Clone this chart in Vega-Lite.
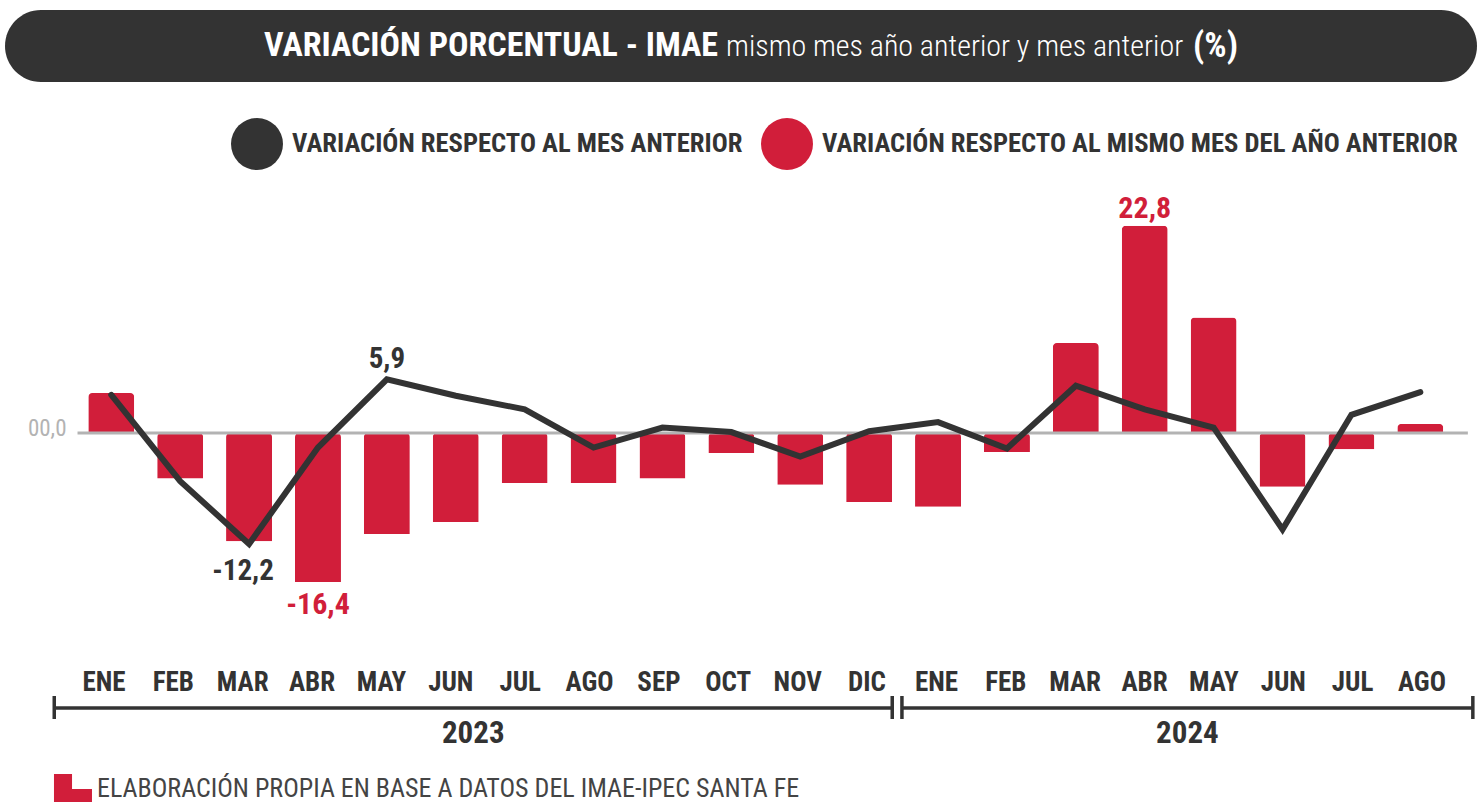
{
  "$schema": "https://vega.github.io/schema/vega-lite/v6.json",
  "padding": {"left": 5, "top": 10, "right": 0, "bottom": 0},
  "spacing": 0,
  "background": "white",
  "datasets": {
    "m": [
      {"i": 0, "mes": "ENE", "anio": "2023", "yoy": 4.4, "mom": 4.2},
      {"i": 1, "mes": "FEB", "anio": "2023", "yoy": -5.0, "mom": -5.3},
      {"i": 2, "mes": "MAR", "anio": "2023", "yoy": -11.9, "mom": -12.2},
      {"i": 3, "mes": "ABR", "anio": "2023", "yoy": -16.4, "mom": -1.6},
      {"i": 4, "mes": "MAY", "anio": "2023", "yoy": -11.1, "mom": 5.9},
      {"i": 5, "mes": "JUN", "anio": "2023", "yoy": -9.8, "mom": 4.1},
      {"i": 6, "mes": "JUL", "anio": "2023", "yoy": -5.5, "mom": 2.6},
      {"i": 7, "mes": "AGO", "anio": "2023", "yoy": -5.5, "mom": -1.6},
      {"i": 8, "mes": "SEP", "anio": "2023", "yoy": -5.0, "mom": 0.6},
      {"i": 9, "mes": "OCT", "anio": "2023", "yoy": -2.2, "mom": 0.1},
      {"i": 10, "mes": "NOV", "anio": "2023", "yoy": -5.7, "mom": -2.6},
      {"i": 11, "mes": "DIC", "anio": "2023", "yoy": -7.6, "mom": 0.2},
      {"i": 12, "mes": "ENE", "anio": "2024", "yoy": -8.1, "mom": 1.2},
      {"i": 13, "mes": "FEB", "anio": "2024", "yoy": -2.1, "mom": -1.7},
      {"i": 14, "mes": "MAR", "anio": "2024", "yoy": 9.9, "mom": 5.2},
      {"i": 15, "mes": "ABR", "anio": "2024", "yoy": 22.8, "mom": 2.6},
      {"i": 16, "mes": "MAY", "anio": "2024", "yoy": 12.7, "mom": 0.6},
      {"i": 17, "mes": "JUN", "anio": "2024", "yoy": -5.9, "mom": -10.6},
      {"i": 18, "mes": "JUL", "anio": "2024", "yoy": -1.8, "mom": 2.0},
      {"i": 19, "mes": "AGO", "anio": "2024", "yoy": 1.0, "mom": 4.5}
    ],
    "years": [
      {"anio": "2023", "start": -0.76, "end": 11.32},
      {"anio": "2024", "start": 11.46, "end": 19.69}
    ]
  },
  "resolve": {"scale": {"x": "independent", "y": "independent", "color": "independent"}},
  "vconcat": [
    {
      "width": 1472,
      "height": 72,
      "view": {"fill": "#333333", "cornerRadius": 36, "stroke": null},
      "data": {"values": [{}]},
      "layer": [
        {
          "mark": {"type": "text", "align": "right", "baseline": "middle", "fontSize": 34, "fontWeight": "bold", "color": "#ffffff"},
          "encoding": {
            "x": {"datum": 713, "type": "quantitative", "scale": {"domain": [0, 1472], "nice": false, "zero": false}, "axis": null},
            "y": {"datum": 36, "type": "quantitative", "scale": {"domain": [0, 72], "reverse": true, "nice": false, "zero": false}, "axis": null},
            "text": {"value": "VARIACIÓN PORCENTUAL - IMAE"}
          }
        },
        {
          "mark": {"type": "text", "align": "left", "baseline": "middle", "fontSize": 30, "fontWeight": 300, "color": "#ffffff"},
          "encoding": {
            "x": {"datum": 721, "type": "quantitative"},
            "y": {"datum": 37, "type": "quantitative"},
            "text": {"value": "mismo mes año anterior y mes anterior"}
          }
        },
        {
          "mark": {"type": "text", "align": "left", "baseline": "middle", "fontSize": 35, "fontWeight": "bold", "color": "#ffffff"},
          "encoding": {
            "x": {"datum": 1188, "type": "quantitative"},
            "y": {"datum": 36, "type": "quantitative"},
            "text": {"value": "(%)"}
          }
        }
      ]
    },
    {
      "width": 1472,
      "height": 573,
      "data": {"name": "m"},
      "layer": [
        {
          "mark": {"type": "bar", "width": 46, "cornerRadiusEnd": 4},
          "encoding": {
            "x": {"field": "i", "type": "quantitative", "scale": {"domain": [-1.47, 19.75], "nice": false, "zero": false}, "axis": null},
            "y": {"field": "yoy", "type": "quantitative", "scale": {"domain": [-24.42, 38.61], "nice": false, "zero": false}, "axis": null},
            "color": {
              "datum": "VARIACIÓN RESPECTO AL MISMO MES DEL AÑO ANTERIOR",
              "type": "nominal",
              "scale": {"domain": ["VARIACIÓN RESPECTO AL MES ANTERIOR", "VARIACIÓN RESPECTO AL MISMO MES DEL AÑO ANTERIOR"], "range": ["#333333", "#d11e3a"]},
              "legend": {
                "title": null,
                "orient": "none",
                "legendX": 226,
                "legendY": 36,
                "direction": "horizontal",
                "symbolType": "circle",
                "symbolSize": 2704,
                "symbolStrokeWidth": 0,
                "symbolOpacity": 1,
                "labelFontSize": 26.6,
                "labelFontWeight": "bold",
                "labelColor": "#333333",
                "labelLimit": 1000,
                "labelOffset": 9,
                "columnPadding": 18,
                "padding": 0
              }
            }
          }
        },
        {
          "data": {"values": [{}]},
          "mark": {"type": "rule", "color": "#b3b3b3", "strokeWidth": 3},
          "encoding": {
            "x": {"datum": -0.49, "type": "quantitative"},
            "x2": {"datum": 19.69},
            "y": {"datum": 0, "type": "quantitative"}
          }
        },
        {
          "data": {"values": [{}]},
          "mark": {"type": "text", "align": "right", "baseline": "middle", "dy": -4, "fontSize": 23, "color": "#b3b3b3"},
          "encoding": {
            "x": {"datum": -0.65, "type": "quantitative"},
            "y": {"datum": 0, "type": "quantitative"},
            "text": {"value": "00,0"}
          }
        },
        {
          "mark": {"type": "line", "strokeWidth": 6, "strokeCap": "round", "strokeJoin": "miter"},
          "encoding": {
            "x": {"field": "i", "type": "quantitative"},
            "y": {"field": "mom", "type": "quantitative"},
            "color": {"datum": "VARIACIÓN RESPECTO AL MES ANTERIOR", "type": "nominal"}
          }
        },
        {
          "transform": [{"filter": "datum.i == 4"}],
          "mark": {"type": "text", "baseline": "bottom", "dy": -5, "fontSize": 29, "fontWeight": "bold", "color": "#333333"},
          "encoding": {
            "x": {"field": "i", "type": "quantitative"},
            "y": {"field": "mom", "type": "quantitative"},
            "text": {"field": "mom", "type": "quantitative", "format": ".1f"}
          }
        },
        {
          "transform": [{"filter": "datum.i == 2"}],
          "mark": {"type": "text", "baseline": "top", "dy": 13, "dx": -6, "fontSize": 29, "fontWeight": "bold", "color": "#333333"},
          "encoding": {
            "x": {"field": "i", "type": "quantitative"},
            "y": {"field": "mom", "type": "quantitative"},
            "text": {"field": "mom", "type": "quantitative", "format": ".1f"}
          }
        },
        {
          "transform": [{"filter": "datum.i == 3"}],
          "mark": {"type": "text", "baseline": "top", "dy": 8, "fontSize": 30, "fontWeight": "bold", "color": "#d11e3a"},
          "encoding": {
            "x": {"field": "i", "type": "quantitative"},
            "y": {"field": "yoy", "type": "quantitative"},
            "text": {"field": "yoy", "type": "quantitative", "format": ".1f"}
          }
        },
        {
          "transform": [{"filter": "datum.i == 15"}],
          "mark": {"type": "text", "baseline": "bottom", "dy": -2, "fontSize": 30, "fontWeight": "bold", "color": "#d11e3a"},
          "encoding": {
            "x": {"field": "i", "type": "quantitative"},
            "y": {"field": "yoy", "type": "quantitative"},
            "text": {"field": "yoy", "type": "quantitative", "format": ".1f"}
          }
        }
      ]
    },
    {
      "width": 1472,
      "height": 147,
      "layer": [
        {
          "data": {"name": "m"},
          "mark": {"type": "text", "align": "center", "baseline": "middle", "dx": -3, "fontSize": 27, "fontWeight": "bold", "color": "#333333"},
          "encoding": {
            "x": {"field": "i", "type": "quantitative", "scale": {"domain": [-1.47, 19.75], "nice": false, "zero": false}, "axis": null},
            "y": {"datum": 28, "type": "quantitative", "scale": {"domain": [0, 147], "reverse": true, "nice": false, "zero": false}, "axis": null},
            "text": {"field": "mes", "type": "nominal"}
          }
        },
        {
          "data": {"name": "years"},
          "mark": {"type": "rule", "color": "#333333", "strokeWidth": 3.5},
          "encoding": {
            "x": {"field": "start", "type": "quantitative"},
            "x2": {"field": "end"},
            "y": {"datum": 53, "type": "quantitative"}
          }
        },
        {
          "data": {"name": "years"},
          "mark": {"type": "rule", "color": "#333333", "strokeWidth": 3.5},
          "encoding": {
            "x": {"field": "start", "type": "quantitative"},
            "y": {"datum": 41, "type": "quantitative"},
            "y2": {"datum": 64}
          }
        },
        {
          "data": {"name": "years"},
          "mark": {"type": "rule", "color": "#333333", "strokeWidth": 3.5},
          "encoding": {
            "x": {"field": "end", "type": "quantitative"},
            "y": {"datum": 41, "type": "quantitative"},
            "y2": {"datum": 64}
          }
        },
        {
          "data": {"name": "years"},
          "transform": [{"calculate": "(datum.start + datum.end) / 2", "as": "mid"}],
          "mark": {"type": "text", "align": "center", "baseline": "middle", "fontSize": 31, "fontWeight": "bold", "color": "#333333"},
          "encoding": {
            "x": {"field": "mid", "type": "quantitative"},
            "y": {"datum": 79, "type": "quantitative"},
            "text": {"field": "anio", "type": "nominal"}
          }
        },
        {
          "data": {"values": [{}]},
          "mark": {"type": "point", "shape": "M-1,-0.74H-0.05V0.05H1V0.74H-1Z", "size": 1444, "filled": true, "color": "#d11e3a", "opacity": 1, "strokeWidth": 0},
          "encoding": {
            "x": {"datum": -0.49, "type": "quantitative"},
            "y": {"datum": 133, "type": "quantitative"}
          }
        },
        {
          "data": {"values": [{}]},
          "mark": {"type": "text", "align": "left", "baseline": "middle", "fontSize": 26, "color": "#444444"},
          "encoding": {
            "x": {"datum": -0.144, "type": "quantitative"},
            "y": {"datum": 134, "type": "quantitative"},
            "text": {"value": "ELABORACIÓN PROPIA EN BASE A DATOS DEL IMAE-IPEC SANTA FE"}
          }
        }
      ]
    }
  ],
  "config": {
    "view": {"stroke": null},
    "font": "'Roboto Condensed', 'Open Sans Condensed', sans-serif",
    "locale": {"number": {"decimal": ",", "thousands": ".", "grouping": [3], "currency": ["$", ""], "minus": "-"}}
  }
}
